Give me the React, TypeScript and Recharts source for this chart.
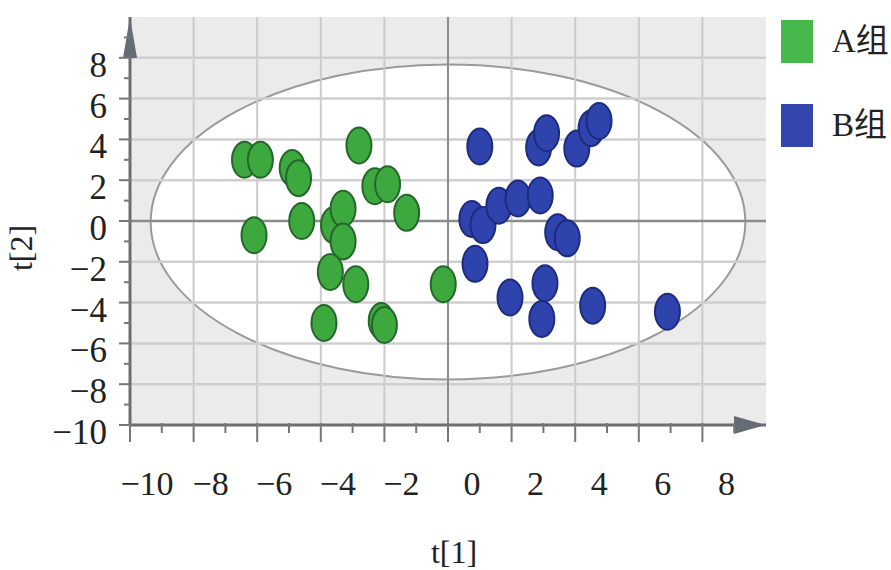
import React from 'react';
import {
  ScatterChart,
  Scatter,
  XAxis,
  YAxis,
  ReferenceArea,
  ReferenceLine,
  ReferenceDot,
} from 'recharts';

// ---- data ----
const groupA = [
  { x: -6.4, y: 3.0 },
  { x: -5.9, y: 3.0 },
  { x: -4.9, y: 2.6 },
  { x: -4.7, y: 2.1 },
  { x: -2.8, y: 3.7 },
  { x: -2.3, y: 1.7 },
  { x: -1.9, y: 1.8 },
  { x: -1.3, y: 0.4 },
  { x: -4.6, y: 0.0 },
  { x: -6.1, y: -0.7 },
  { x: -3.6, y: -0.2 },
  { x: -3.3, y: 0.6 },
  { x: -3.3, y: -1.0 },
  { x: -3.7, y: -2.5 },
  { x: -2.9, y: -3.1 },
  { x: -3.9, y: -5.0 },
  { x: -2.1, y: -4.9 },
  { x: -2.0, y: -5.1 },
  { x: -0.15, y: -3.1 },
];

const groupB = [
  { x: 1.0, y: 3.65 },
  { x: 2.85, y: 3.6 },
  { x: 3.1, y: 4.3 },
  { x: 4.05, y: 3.55 },
  { x: 4.5, y: 4.55 },
  { x: 4.75, y: 4.9 },
  { x: 0.75, y: 0.1 },
  { x: 1.1, y: -0.2 },
  { x: 1.6, y: 0.75 },
  { x: 2.2, y: 1.1 },
  { x: 2.9, y: 1.25 },
  { x: 3.45, y: -0.55 },
  { x: 3.75, y: -0.85 },
  { x: 0.85, y: -2.1 },
  { x: 1.95, y: -3.75 },
  { x: 3.05, y: -3.05 },
  { x: 2.95, y: -4.8 },
  { x: 4.55, y: -4.15 },
  { x: 6.9, y: -4.45 },
];

const seriesNames = ['A组', 'B组'];
const axisDomain = [-10, 10];
const axisTicks = [-10, -9, -8, -7, -6, -5, -4, -3, -2, -1, 0, 1, 2, 3, 4, 5, 6, 7, 8, 9];
const gridValues = [-8, -6, -4, -2, 2, 4, 6, 8];
const ellipseX = [-9.35, 9.35];
const ellipseY = [-7.77, 7.67];

// ---- styles ----
const SERIF = 'Liberation Serif, Times New Roman, DejaVu Serif, serif';
const GREEN = '#3ca83e';
const GREEN_STROKE = '#25672a';
const BLUE = '#2f43ac';
const BLUE_STROKE = '#1d2b80';
const LEGEND_COLORS = ['#47b84b', '#3246ad'];

const fmt = (v: number) => (v < 0 ? '\u2212' + Math.abs(v) : String(v));

const XTick = (props: any) => {
  const { x, y, payload } = props;
  const v = payload.value;
  const major = v % 2 === 0;
  return (
    <g>
      <line x1={x} y1={y - 2} x2={x} y2={y + (major ? 17 : 8)} stroke="#777" strokeWidth={2} />
      {major && (
        <text
          x={x + (v < 0 ? 17 : 24)}
          y={y + 70}
          textAnchor="middle"
          style={{ fontFamily: SERIF }}
          fontSize={34}
          fill="#222"
        >
          {fmt(v)}
        </text>
      )}
    </g>
  );
};

const YTick = (props: any) => {
  const { x, y, payload } = props;
  const v = payload.value;
  const major = v % 2 === 0;
  return (
    <g>
      <line x1={x - (major ? 11 : 6)} y1={y} x2={x + 1} y2={y} stroke="#777" strokeWidth={2} />
      {major && (
        <text x={107} y={y + 19} textAnchor="end" style={{ fontFamily: SERIF }} fontSize={35} fill="#222">
          {fmt(v)}
        </text>
      )}
    </g>
  );
};

const XTitle = (props: any) => {
  const vb = props.viewBox || {};
  return (
    <text
      x={vb.x + vb.width / 2 + 6}
      y={vb.y + 138}
      textAnchor="middle"
      style={{ fontFamily: SERIF }}
      fontSize={32}
      fill="#222"
    >
      t[1]
    </text>
  );
};

const YTitle = (props: any) => {
  const vb = props.viewBox || {};
  const cy = vb.y + vb.height / 2 + 27;
  return (
    <text
      transform={`translate(21, ${cy}) rotate(-90)`}
      textAnchor="middle"
      dominantBaseline="central"
      style={{ fontFamily: SERIF }}
      fontSize={32}
      fill="#222"
    >
      t[2]
    </text>
  );
};

const makeMarker = (fill: string, stroke: string) => (props: any) => {
  const { cx, cy } = props;
  if (cx == null || cy == null) return <g />;
  return <ellipse cx={cx} cy={cy} rx={12.5} ry={18} fill={fill} stroke={stroke} strokeWidth={2} />;
};

const EllipseFill = (p: any) => (
  <ellipse cx={p.x + p.width / 2} cy={p.y + p.height / 2} rx={p.width / 2} ry={p.height / 2} fill="#ffffff" />
);
const EllipseOutline = (p: any) => (
  <ellipse
    cx={p.x + p.width / 2}
    cy={p.y + p.height / 2}
    rx={p.width / 2}
    ry={p.height / 2}
    fill="none"
    stroke="#9a9a9a"
    strokeWidth={2}
  />
);

const XArrow = (p: any) => {
  const { cx, cy } = p;
  return <polygon points={`${cx},${cy} ${cx - 32},${cy - 9} ${cx - 32},${cy + 9}`} fill="#666c76" />;
};
const YArrow = (p: any) => {
  const { cx, cy } = p;
  return <polygon points={`${cx},${cy} ${cx - 7},${cy + 41} ${cx + 7},${cy + 41}`} fill="#666c76" />;
};

export default function App() {
  return (
    <div style={{ position: 'absolute', left: 0, top: 0, width: 891, height: 570, background: '#fff' }}>
      <ScatterChart width={891} height={570} margin={{ top: 17, right: 125, bottom: 0, left: 0 }}>
        <XAxis
          type="number"
          dataKey="x"
          domain={axisDomain}
          ticks={axisTicks}
          interval={0}
          height={145}
          tickSize={0}
          tickMargin={0}
          tickLine={false}
          tick={<XTick />}
          axisLine={{ stroke: '#6e6e6e', strokeWidth: 3 }}
          allowDataOverflow
          label={<XTitle />}
        />
        <YAxis
          type="number"
          dataKey="y"
          domain={axisDomain}
          ticks={axisTicks}
          interval={0}
          width={130}
          tickSize={0}
          tickMargin={0}
          tickLine={false}
          tick={<YTick />}
          axisLine={{ stroke: '#6e6e6e', strokeWidth: 3 }}
          allowDataOverflow
          label={<YTitle />}
        />
        <ReferenceArea x1={-10} x2={10} y1={-10} y2={10} fill="#ebebeb" fillOpacity={1} stroke="none" />
        <ReferenceArea x1={ellipseX[0]} x2={ellipseX[1]} y1={ellipseY[0]} y2={ellipseY[1]} shape={EllipseFill} />
        {gridValues.map((v) => (
          <ReferenceLine key={'gx' + v} x={v} stroke="#cbcbcb" strokeWidth={2} />
        ))}
        {gridValues.map((v) => (
          <ReferenceLine key={'gy' + v} y={v} stroke="#cfcfcf" strokeWidth={2.5} />
        ))}
        <ReferenceLine x={0} stroke="#8c8c8c" strokeWidth={2} />
        <ReferenceLine y={0} stroke="#8c8c8c" strokeWidth={2.5} />
        <ReferenceArea x1={ellipseX[0]} x2={ellipseX[1]} y1={ellipseY[0]} y2={ellipseY[1]} shape={EllipseOutline} />
        <ReferenceDot x={10} y={-10} r={1} shape={XArrow} />
        <ReferenceDot x={-10} y={10} r={1} shape={YArrow} />
        <Scatter name={seriesNames[0]} data={groupA} isAnimationActive={false} shape={makeMarker(GREEN, GREEN_STROKE)} />
        <Scatter name={seriesNames[1]} data={groupB} isAnimationActive={false} shape={makeMarker(BLUE, BLUE_STROKE)} />
      </ScatterChart>
      <div style={{ position: 'absolute', left: 781, top: 20 }}>
        {seriesNames.map((n, i) => (
          <div
            key={n}
            style={{ display: 'flex', alignItems: 'center', height: 43, marginBottom: i === 0 ? 41 : 0 }}
          >
            <div style={{ width: 32, height: 43, background: LEGEND_COLORS[i] }} />
            <div
              style={{
                marginLeft: 19,
                fontFamily: 'Liberation Serif, Noto Sans CJK SC, serif',
                fontSize: 33,
                color: '#222',
                lineHeight: '43px',
                whiteSpace: 'nowrap',
              }}
            >
              {n}
            </div>
          </div>
        ))}
      </div>
    </div>
  );
}
